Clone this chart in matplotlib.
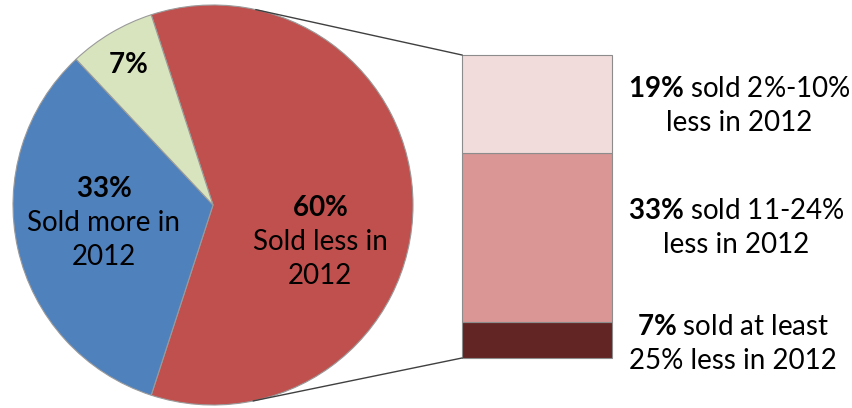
import numpy as np
import matplotlib
matplotlib.use("Agg")
import matplotlib.pyplot as plt

plt.rcParams['font.family'] = ['Lato', 'DejaVu Sans']
plt.rcParams['mathtext.fontset'] = 'custom'
plt.rcParams['mathtext.rm'] = 'Lato'
plt.rcParams['mathtext.bf'] = 'Lato:bold'

# pie data (sold less, sold more, unknown)
pie_values = [60, 33, 7]
pie_colors = ['#C0504D', '#4F81BD', '#D7E4BD']
pie_labels = ['$\\mathbf{60\\%}$\nSold less in\n2012',
              '$\\mathbf{33\\%}$\nSold more in\n2012',
              '$\\mathbf{7\\%}$']

# breakdown of the "sold less" slice, bottom to top
bar_values = [7, 33, 19]
bar_colors = ['#632523', '#D99694', '#F2DCDB']
bar_labels = ['$\\mathbf{7\\%}$ sold at least\n25% less in 2012',
              '$\\mathbf{33\\%}$ sold 11-24%\nless in 2012',
              '$\\mathbf{19\\%}$ sold 2%-10%\nless in 2012']

W, H = 853, 408
fig = plt.figure(figsize=(W / 100, H / 100), dpi=100)
ax = fig.add_axes([0, 0, 1, 1])
ax.set_aspect('equal')
ax.axis('off')

cx, cy, r = 213, 203, 200
start = pie_values[0] / sum(pie_values) * 360 / 2
wedges, _ = ax.pie(pie_values, colors=pie_colors, center=(cx, cy), radius=r,
                   startangle=start, counterclock=False,
                   wedgeprops=dict(edgecolor='#9a9a9a', linewidth=0.8))
ax.set_xlim(0, W)
ax.set_ylim(0, H)

# labels inside the pie
label_pos = [(320, 166), (104, 185), (128, 343)]
for (x, y), txt in zip(label_pos, pie_labels):
    ax.text(x, y, txt, ha='center', va='center', fontsize=20,
            linespacing=1.4, color='black')

# stacked bar
bx, bw = 462, 150
b_bottom, b_top = 50, 353
scale = (b_top - b_bottom) / sum(bar_values)
bottoms = b_bottom + scale * np.concatenate([[0], np.cumsum(bar_values)[:-1]])
ax.bar([bx + bw / 2] * len(bar_values), [v * scale for v in bar_values],
       width=bw, bottom=bottoms, color=bar_colors,
       edgecolor='#8c8c8c', linewidth=0.8)

label_x = [733, 736, 739]
label_y = [64, 180, 302]
for x, y, txt in zip(label_x, label_y, bar_labels):
    ax.text(x, y, txt, ha='center', va='center', fontsize=20,
            linespacing=1.4, color='black')

# tangent connector lines from pie to bar corners
for py in (b_top, b_bottom):
    dx, dy = bx - cx, py - cy
    d = np.hypot(dx, dy)
    base = np.arctan2(dy, dx)
    off = np.arccos(r / d)
    ang = base + off if dy > 0 else base - off
    tx, ty = cx + r * np.cos(ang), cy + r * np.sin(ang)
    ax.plot([tx, bx], [ty, py], color='#404040', linewidth=1.0)

fig.savefig('out.png', dpi=100)
